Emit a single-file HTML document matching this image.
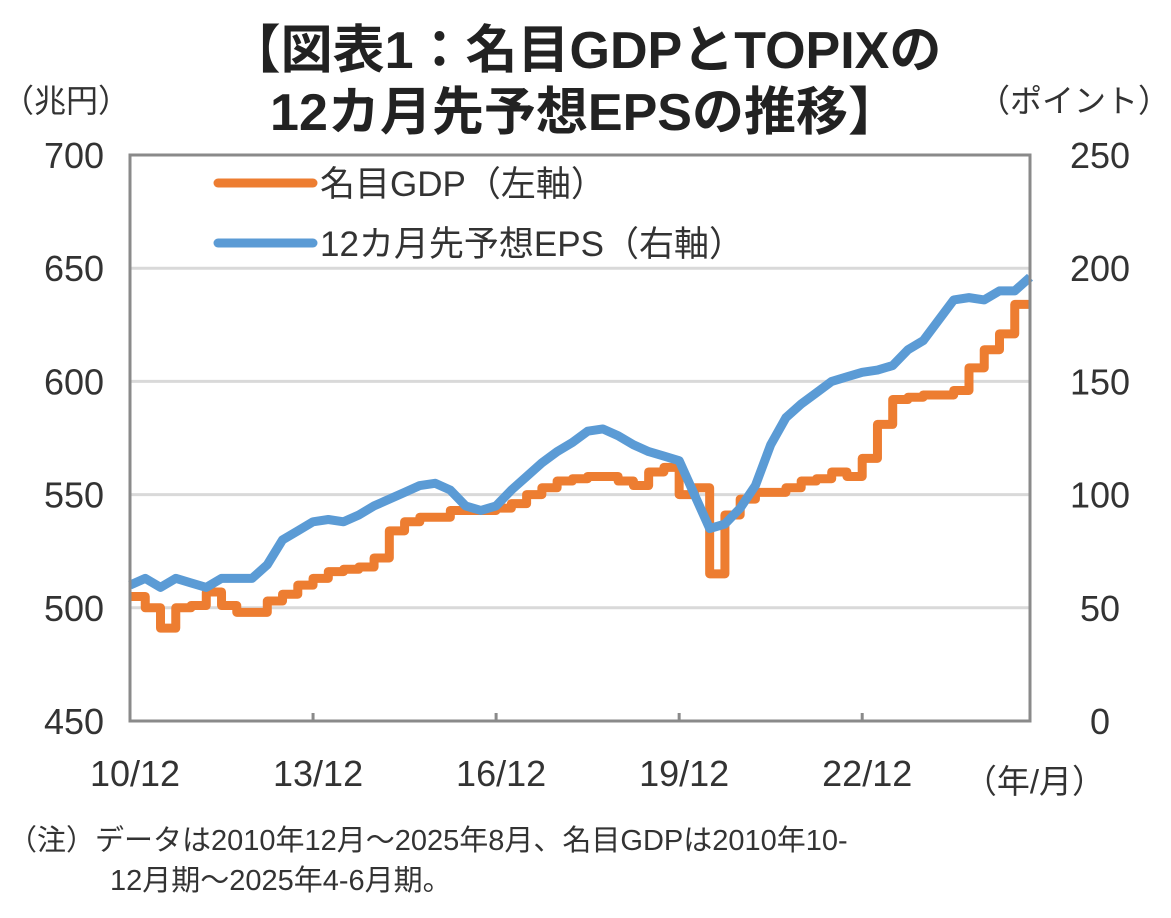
<!DOCTYPE html>
<html><head><meta charset="utf-8">
<style>
body{margin:0;background:#fff;}
svg{display:block;font-family:"Liberation Sans","Noto Sans CJK JP",sans-serif;}
</style></head><body>
<svg id="chart" width="1171" height="918" viewBox="0 0 1171 918">
<text x="585" y="68" text-anchor="middle" font-size="52" font-weight="bold" fill="#222">【図表1：名目GDPとTOPIXの</text>
<text x="585" y="130" text-anchor="middle" font-size="52" font-weight="bold" fill="#222">12カ月先予想EPSの推移】</text>
<text x="2" y="112" font-size="32" fill="#333">（兆円）</text>
<text x="1170" y="112" text-anchor="end" font-size="32" fill="#333">（ポイント）</text>
<g id="grid"></g>
<g id="axes"></g>
<g id="series"></g>
<rect x="130" y="155" width="900" height="566" fill="none" stroke="#8a8a8a" stroke-width="3"/>
<g>
<line x1="218" y1="183" x2="313" y2="183" stroke="#ed7d31" stroke-width="9" stroke-linecap="round"/>
<text x="320" y="196" font-size="35" fill="#333">名目GDP（左軸）</text>
<line x1="218" y1="243" x2="313" y2="243" stroke="#5b9bd5" stroke-width="9" stroke-linecap="round"/>
<text x="320" y="256" font-size="35" fill="#333">12カ月先予想EPS（右軸）</text>
</g>
<text x="1105" y="793" text-anchor="end" font-size="33" fill="#333">（年/月）</text>
<text x="8" y="850" font-size="29" fill="#333">（注）データは2010年12月～2025年8月、名目GDPは2010年10-</text>
<text x="110" y="890" font-size="29" fill="#333">12月期～2025年4-6月期。</text>
</svg>
<script>
const leftTicks=[450,500,550,600,650,700];
const rightTicks=[0,50,100,150,200,250];
const xTickLabels=["10/12","13/12","16/12","19/12","22/12"];
const xTickMonths=[0,36,72,108,144];
const gdpQuarterly=[505,500,491,500,501,507,501,498,498,503,506,510,513,516,517,518,522,534,538,540,540,543,543,543,544,546,550,553,556,557,558,558,556,554,560,562,550,553,515,541,548,551,551,553,556,557,560,558,566,581,592,593,594,594,596,606,614,621,634];
const epsQuarterlySample=[60,63,59,63,61,59,63,63,63,69,80,84,88,89,88,91,95,98,101,104,105,102,95,93,95,102,108,114,119,123,128,129,126,122,119,117,115,100,85,87,94,104,122,134,140,145,150,152,154,155,157,164,168,177,186,187,186,190,190,196];

const X0=130,X1=1030,Y0=155,Y1=721,MMAX=177;
const xs=m=>X0+(X1-X0)*m/MMAX;
const yL=v=>Y1-(v-450)/250*(Y1-Y0);
const yR=v=>Y1-v/250*(Y1-Y0);
const NS="http://www.w3.org/2000/svg";
function mk(tag,attrs,parent){const e=document.createElementNS(NS,tag);for(const k in attrs)e.setAttribute(k,attrs[k]);parent.appendChild(e);return e;}
const grid=document.getElementById('grid'),axes=document.getElementById('axes'),ser=document.getElementById('series');
leftTicks.forEach((v,i)=>{
  if(v>450&&v<700){const g=mk('line',{x1:X0,x2:X1,y1:yL(v),y2:yL(v),stroke:'#d9d9d9','stroke-width':3},grid);
  
  }
  const t=mk('text',{x:74,y:yL(v)+13,'text-anchor':'middle','font-size':36,fill:'#333'},axes);t.textContent=v;
  
  
});
rightTicks.forEach(v=>{
  const t=mk('text',{x:1100,y:yR(v)+13,'text-anchor':'middle','font-size':36,fill:'#333'},axes);t.textContent=v;
  
  
});
xTickLabels.forEach((l,i)=>{
  const x=xs(xTickMonths[i]);
  const tk=mk('line',{x1:x,x2:x,y1:Y1,y2:Y1-8,stroke:'#8a8a8a','stroke-width':3},axes);
  
  
  const t=mk('text',{x:x+5,y:786,'text-anchor':'middle','font-size':36,fill:'#333'},axes);t.textContent=l;
  
  
});
let d='';
gdpQuarterly.forEach((v,i)=>{const y=yL(v);d+=(i?'L':'M')+xs(i*3)+','+y+'L'+xs(Math.min(i*3+3,MMAX))+','+y;});
const gp=mk('path',{d:d,fill:'none',stroke:'#ed7d31','stroke-width':9,'stroke-linejoin':'round'},ser);


let d2='';
epsQuarterlySample.forEach((v,i)=>{d2+=(i?'L':'M')+xs(i*3)+','+yR(v);});
const ep=mk('path',{d:d2,fill:'none',stroke:'#5b9bd5','stroke-width':9,'stroke-linejoin':'round'},ser);


</script>
</body></html>
